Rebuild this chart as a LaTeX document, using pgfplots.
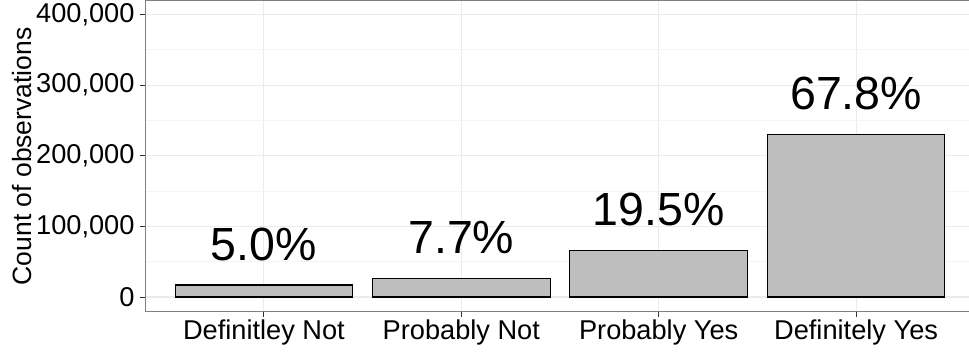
\documentclass[border=0pt]{standalone}
\usepackage{fontspec}
\setmainfont{Liberation Sans}
\usepackage{pgfplots}
\pgfplotsset{compat=1.18}
\usetikzlibrary{calc}

\definecolor{barfill}{HTML}{BEBEBE}
\definecolor{gridmajor}{HTML}{EBEBEB}
\definecolor{gridminor}{HTML}{F4F4F4}
\definecolor{panelborder}{HTML}{808080}
\definecolor{tickcol}{HTML}{333333}

\begin{document}
\begin{tikzpicture}
\begin{axis}[
  scale only axis,
  width=829pt, height=310.7pt,
  xmin=0.4, xmax=4.6,
  ymin=-20800, ymax=419000,
  xtick={1,2,3,4},
  xticklabels={Definitley Not, Probably Not, Probably Yes, Definitely Yes},
  ytick={0,100000,200000,300000,400000},
  yticklabels={0,{100,000},{200,000},{300,000},{400,000}},
  minor ytick={50000,150000,250000,350000},
  grid=both,
  major grid style={draw=gridmajor, line width=1.1pt},
  minor grid style={draw=gridminor, line width=0.6pt},
  axis line style={draw=panelborder, line width=1pt},
  tick style={draw=tickcol, line width=1pt},
  tick align=outside,
  major tick length=5.5pt,
  minor tick length=0pt,
  xtick pos=bottom, ytick pos=left,
  ticklabel style={font=\fontsize{27.2}{27.2}\selectfont, text=black},
  xticklabel style={anchor=base, yshift=-22pt},
  yticklabel style={anchor=east, xshift=-2pt},
  ylabel={Count of observations},
  ylabel style={font=\fontsize{26.5}{26.5}\selectfont,
                at={(axis description cs:-0.149,0.5)}, anchor=center},
  clip=false,
]
\addplot[
  ybar, bar width=0.9, fill=barfill, draw=black, line width=1.2pt,
  point meta=explicit symbolic,
  nodes near coords,
  every node near coord/.style={anchor=base, yshift=25pt,
    font=\fontsize{46.5}{46.5}\selectfont, text=black},
] coordinates {
  (1,16900)  [5.0\%]
  (2,26060)  [7.7\%]
  (3,66000)  [19.5\%]
  (4,229500) [67.8\%]
};
\end{axis}
\pgfresetboundingbox
\path ($(current axis.south west)+(-145.5pt,-40.3pt)$) rectangle
      ($(current axis.north west)+(823.5pt,1pt)$);
\end{tikzpicture}
\end{document}
